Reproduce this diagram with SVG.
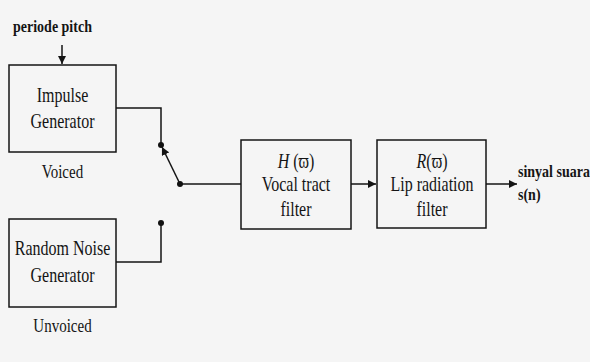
<svg xmlns="http://www.w3.org/2000/svg" width="590" height="362" viewBox="0 0 590 362">
  <style>
    .box { fill: none; stroke: #141414; stroke-width: 1.5; }
    .wire { fill: none; stroke: #141414; stroke-width: 1.5; }
    .t { font-family: "Liberation Serif", "DejaVu Serif", serif; fill: #141414; text-anchor: middle; }
    .lbl { font-size: 16px; }
    .cap { font-size: 15px; }
    .bold { font-size: 14px; font-weight: bold; text-anchor: start; }
    .dot { fill: #111; }
  </style>
  <defs>
    <marker id="arrow" viewBox="0 0 10 10" refX="10" refY="5" markerWidth="8" markerHeight="8" markerUnits="userSpaceOnUse" orient="auto">
      <path d="M0,0 L10,5 L0,10 z" fill="#141414"/>
    </marker>
  </defs>
  <rect width="590" height="362" fill="#f5f5f5"/>

  <g id="pitch-input">
    <text class="t bold" transform="translate(13,32) scale(1,1.12)">periode pitch</text>
  </g>

  <g id="impulse-generator">
    <rect class="box" x="9" y="65" width="107" height="87"/>
    <text class="t lbl" transform="translate(62.5,102) scale(1,1.3)">Impulse</text>
    <text class="t lbl" transform="translate(62.5,128) scale(1,1.3)">Generator</text>
    <text class="t cap" transform="translate(62.5,178) scale(1,1.3)">Voiced</text>
  </g>

  <g id="noise-generator">
    <rect class="box" x="9" y="219" width="107" height="88"/>
    <text class="t lbl" transform="translate(62.5,255) scale(1,1.3)">Random Noise</text>
    <text class="t lbl" transform="translate(62.5,282) scale(1,1.3)">Generator</text>
    <text class="t cap" transform="translate(62.5,332) scale(1,1.3)">Unvoiced</text>
  </g>

  <g id="vocal-tract">
    <rect class="box" x="241" y="140" width="110" height="89"/>
    <text class="t lbl" transform="translate(296,168) scale(1,1.3)"><tspan font-style="italic">H</tspan> (ϖ)</text>
    <text class="t lbl" transform="translate(296,191) scale(1,1.3)">Vocal tract</text>
    <text class="t lbl" transform="translate(296,216) scale(1,1.3)">filter</text>
  </g>

  <g id="lip-radiation">
    <rect class="box" x="377" y="140" width="109" height="88"/>
    <text class="t lbl" transform="translate(432,168) scale(1,1.3)"><tspan font-style="italic">R</tspan>(ϖ)</text>
    <text class="t lbl" transform="translate(432,191) scale(1,1.3)">Lip radiation</text>
    <text class="t lbl" transform="translate(432,216) scale(1,1.3)">filter</text>
  </g>

  <g id="output">
    <text class="t bold" transform="translate(518,177) scale(1,1.12)">sinyal suara</text>
    <text class="t bold" transform="translate(518,200) scale(1,1.12)">s(n)</text>
  </g>

  <g id="connectors">
    <line class="wire" x1="62" y1="45" x2="62" y2="64" marker-end="url(#arrow)"/>
    <polyline class="wire" points="116,108 161,108 161,145"/>
    <polyline class="wire" points="116,262 161,262 161,223"/>
    <line class="wire" x1="180" y1="184" x2="162" y2="147" marker-end="url(#arrow)"/>
    <line class="wire" x1="180" y1="184" x2="241" y2="184"/>
    <line class="wire" x1="351" y1="184" x2="376" y2="184" marker-end="url(#arrow)"/>
    <line class="wire" x1="486" y1="184" x2="517" y2="184" marker-end="url(#arrow)"/>
    <circle class="dot" cx="161" cy="145" r="3"/>
    <circle class="dot" cx="161" cy="223" r="3"/>
    <circle class="dot" cx="180" cy="184" r="3"/>
  </g>
</svg>
